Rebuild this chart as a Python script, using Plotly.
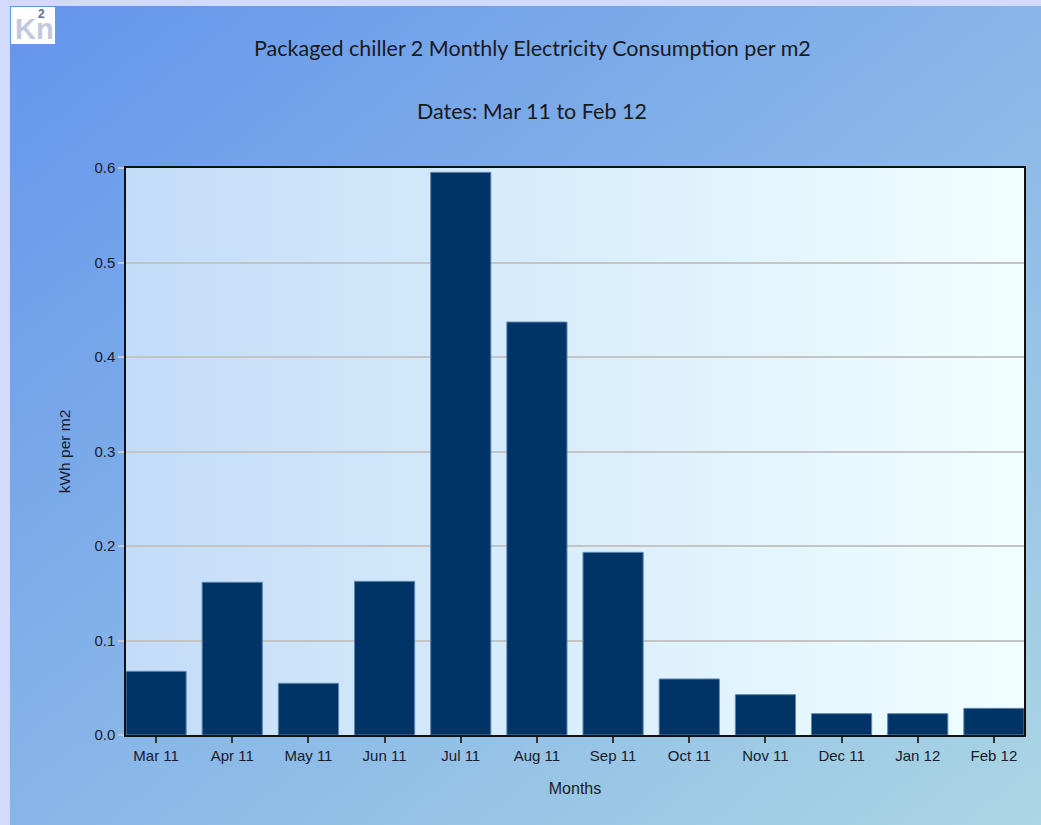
import base64
import plotly.graph_objects as go

months = ["Mar 11", "Apr 11", "May 11", "Jun 11", "Jul 11", "Aug 11",
          "Sep 11", "Oct 11", "Nov 11", "Dec 11", "Jan 12", "Feb 12"]
kwh_per_m2 = [0.0674, 0.1616, 0.0547, 0.1626, 0.5954, 0.4370,
              0.1933, 0.0593, 0.0427, 0.0226, 0.0226, 0.0282]
y_ticks = [0.0, 0.1, 0.2, 0.3, 0.4, 0.5, 0.6]

title_text = "Packaged chiller 2 Monthly Electricity Consumption per m2"
subtitle_text = "Dates: Mar 11 to Feb 12"

W, H = 1041, 825
ML, MR, MT, MB = 126, 17, 168, 90
PW = W - ML - MR
PH = H - MT - MB


def px(x):
    return (x - ML) / PW


def py(y):
    return (H - MB - y) / PH


def svg_uri(svg):
    return "data:image/svg+xml;base64," + base64.b64encode(svg.encode()).decode()


outer_svg = ('<svg xmlns="http://www.w3.org/2000/svg" width="100" height="100" preserveAspectRatio="none" viewBox="0 0 100 100">'
             '<defs><linearGradient id="g" x1="0" y1="0" x2="1" y2="1">'
             '<stop offset="0" stop-color="#6495ec"/><stop offset="1" stop-color="#abd6e4"/>'
             '</linearGradient></defs><rect width="100" height="100" fill="url(#g)"/></svg>')
plot_svg = ('<svg xmlns="http://www.w3.org/2000/svg" width="100" height="100" preserveAspectRatio="none" viewBox="0 0 100 100">'
            '<defs><linearGradient id="g" x1="0" y1="0" x2="1" y2="0">'
            '<stop offset="0" stop-color="#c3dcf8"/><stop offset="1" stop-color="#f0ffff"/>'
            '</linearGradient></defs><rect width="100" height="100" fill="url(#g)"/></svg>')

TXT = "#1a1a2a"

fig = go.Figure()
fig.add_trace(go.Bar(
    x=list(range(len(months))), y=kwh_per_m2, width=0.79,
    marker=dict(color="#003366", line=dict(color="#5f86ad", width=1)),
    hoverinfo="x+y",
))

fig.update_layout(
    width=W, height=H,
    margin=dict(l=ML, r=MR, t=MT, b=MB, pad=0),
    paper_bgcolor="#d3dbfd",
    plot_bgcolor="rgba(0,0,0,0)",
    showlegend=False,
    font=dict(family="Liberation Sans, Arial", size=15, color=TXT),
    images=[
        dict(source=svg_uri(outer_svg), xref="paper", yref="paper",
             x=px(10), y=py(6), sizex=px(W) - px(10), sizey=py(6) - py(H),
             xanchor="left", yanchor="top", sizing="stretch", layer="below"),
        dict(source=svg_uri(plot_svg), xref="paper", yref="paper",
             x=0, y=1, sizex=1, sizey=1,
             xanchor="left", yanchor="top", sizing="stretch", layer="below"),
    ],
    xaxis=dict(
        range=[-0.395, len(months) - 1 + 0.395],
        tickmode="array", tickvals=list(range(len(months))), ticktext=months,
        ticks="outside", ticklen=6, tickwidth=1.5, tickcolor="#333333",
        showline=True, linecolor="#111111", linewidth=1.5, mirror=True,
        showgrid=False, zeroline=False,
        tickfont=dict(size=15, color=TXT),
        title=dict(text="Months", standoff=20, font=dict(size=16, color=TXT)),
    ),
    yaxis=dict(
        range=[0, 0.6],
        tickmode="array", tickvals=y_ticks, ticktext=[f"{v:.1f}" for v in y_ticks],
        ticks="outside", ticklen=6, tickwidth=1.5, tickcolor="#c8c8c8",
        showline=True, linecolor="#111111", linewidth=1.5, mirror=True,
        showgrid=True, gridcolor="#c4c4c4", gridwidth=1.5, zeroline=False,
        tickfont=dict(size=15, color=TXT),
        title=dict(text="kWh per m2", standoff=20, font=dict(size=15.5, color=TXT)),
    ),
    shapes=[
        dict(type="rect", xref="paper", yref="paper", x0=px(11), x1=px(55), y0=py(7), y1=py(44),
             fillcolor="white", line=dict(width=0), layer="above"),
    ],
    annotations=[
        dict(text=title_text, xref="paper", yref="paper", x=px(532), y=py(48),
             showarrow=False, xanchor="center", yanchor="middle",
             font=dict(family="Lato, Open Sans", size=21.5, color="#1a1a1a")),
        dict(text=subtitle_text, xref="paper", yref="paper", x=px(532), y=py(111),
             showarrow=False, xanchor="center", yanchor="middle",
             font=dict(family="Lato, Open Sans", size=21.5, color="#1a1a1a")),
        dict(text="<b>Kn</b>", xref="paper", yref="paper", x=px(34), y=py(29),
             showarrow=False, xanchor="center", yanchor="middle",
             font=dict(family="Liberation Sans, Arial", size=29, color="#c3c8de")),
        dict(text="<b>2</b>", xref="paper", yref="paper", x=px(41), y=py(14),
             showarrow=False, xanchor="center", yanchor="middle",
             font=dict(family="Liberation Sans, Arial", size=12, color="#5d6c9c")),
    ],
)

fig.write_html(
    "out.html",
    config={"displayModeBar": False},
    post_script="document.body.style.margin='0';document.body.style.padding='0';"
                "document.body.style.background='#d3dbfd';"
                "document.documentElement.style.overflow='hidden';",
)
